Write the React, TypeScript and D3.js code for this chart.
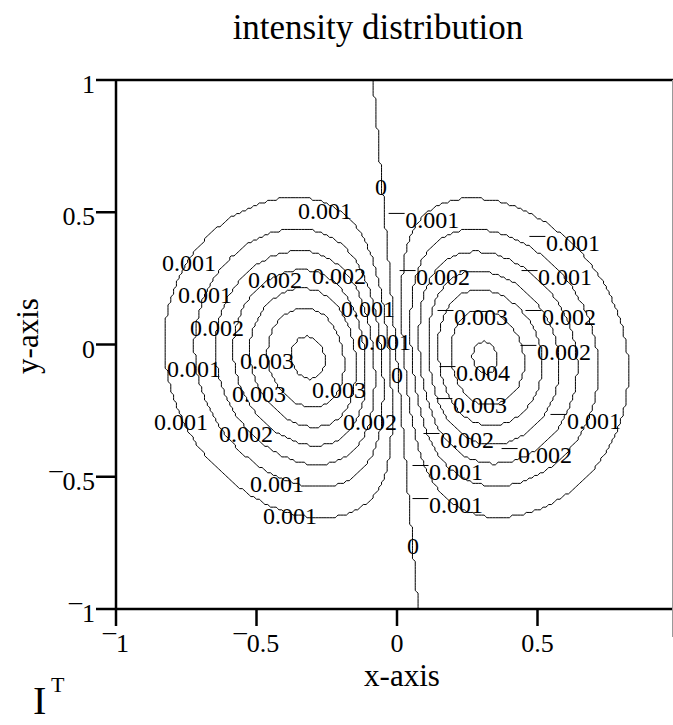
import React, { useMemo } from "react";
import * as d3 from "d3";

const W = 673;
const H = 725;

// Contour levels of the intensity field
const contourLevels = [0.0005, 0.001, 0.0015, 0.002, 0.0025, 0.003, 0.0035];
// Peak intensity of the left and the right lobe
const lobePeaks = [0.003625, 0.00357];
// Distance of a lobe maximum from the nodal line, vertical 1/e half-width
const lobeSpread = [0.314, 0.43];
// Vertical centre of the beam
const beamCenterY = [-0.05];
// Nodal line: x = a + b * y
const nodalLine = [-0.005, -0.08];
// Axis ticks
const axisTicks = [-1, -0.5, 0, 0.5, 1];

// Contour labels: level, label centre x, label centre y, leader line
const labelLevels = [
  0.0005, 0, 0.0005, 0.0005, 0.001, 0.0015, 0.002, 0.001, 0.0015, 0.0005,
  0.001, 0.0025, 0, 0.003, 0.0025, 0.0005, 0.0015, 0.002, 0.001, 0.0005,
  0.0015, 0.0005, 0.001, 0.0025, 0.0015, 0.002, 0.0035, 0.0025, 0.0005,
  0.0015, 0.002, 0.001, 0.0005, 0,
];
const labelX = [
  -0.256, -0.057, 0.125, -0.74, -0.683, -0.434, -0.206, -0.103, -0.641, -0.046,
  -0.722, -0.463, 0.0, -0.491, -0.206, -0.769, -0.537, -0.096, -0.427, -0.381,
  0.164, 0.626, 0.598, 0.299, 0.612, 0.594, 0.306, 0.295, 0.701, 0.249, 0.527,
  0.21, 0.21, 0.057,
];
const labelY = [
  0.505, 0.595, 0.471, 0.308, 0.187, 0.244, 0.259, 0.134, 0.062, 0.009, -0.093,
  -0.062, -0.115, -0.187, -0.172, -0.293, -0.338, -0.293, -0.527, -0.648,
  0.255, 0.384, 0.255, 0.104, 0.104, -0.028, -0.108, -0.229, -0.289, -0.361,
  -0.418, -0.482, -0.607, -0.762,
];
const labelLeader = [
  false, false, true, false, false, false, false, false, false, false, false,
  false, false, false, false, false, false, false, false, false, true, true,
  true, true, true, true, true, true, true, true, true, true, true, false,
];

// Signed field amplitude; its magnitude is the plotted intensity
function field(x: number, y: number): number {
  const u = x - (nodalLine[0] + nodalLine[1] * y);
  const v = y - beamCenterY[0];
  const u0 = lobeSpread[0];
  const wy = lobeSpread[1];
  const peak = u < 0 ? lobePeaks[0] : lobePeaks[1];
  return (
    peak * (u / u0) * Math.exp(0.5 * (1 - (u * u) / (u0 * u0)) - (v * v) / (wy * wy))
  );
}

const margin = { left: 116, right: 678, top: 80, bottom: 609 };
const serif = "'Liberation Serif', 'Times New Roman', serif";

function tickText(d: number): string {
  return d < 0 ? "\u00af" + String(Math.abs(d)) : String(d);
}

export default function App() {
  const x = d3.scaleLinear().domain([-1, 1]).range([margin.left, margin.right]);
  const y = d3.scaleLinear().domain([-1, 1]).range([margin.bottom, margin.top]);

  const { ringPaths, nodePath } = useMemo(() => {
    const step = 0.01;
    const g0 = -1.1;
    const n = Math.round((2 * -g0) / step) + 1;
    const mag = new Array(n * n);
    const signed = new Array(n * n);
    for (let j = 0; j < n; j++) {
      const yy = -g0 - j * step;
      for (let i = 0; i < n; i++) {
        const xx = g0 + i * step;
        const e = field(xx, yy);
        signed[j * n + i] = e;
        mag[j * n + i] = Math.abs(e);
      }
    }
    const proj = d3.geoTransform({
      point(px: number, py: number) {
        const dx = g0 + (px - 0.5) * step;
        const dy = -g0 - (py - 0.5) * step;
        (this as any).stream.point(x(dx), y(dy));
      },
    });
    const path = d3.geoPath(proj);
    const rings = d3
      .contours()
      .size([n, n])
      .smooth(false)
      .thresholds(contourLevels)(mag);
    const node = d3.contours().size([n, n]).smooth(false).thresholds([0])(signed);
    return {
      ringPaths: rings.map((c) => path(c as any) || ""),
      nodePath: path(node[0] as any) || "",
    };
  }, []);

  const fmt = d3.format(".3f");
  const labelText = (v: number) => (v === 0 ? "0" : fmt(v));

  return (
    <svg
      width={W}
      height={H}
      viewBox={`0 0 ${W} ${H}`}
      style={{ position: "absolute", left: 0, top: 0, background: "#fff" }}
      fontFamily={serif}
    >
      <defs>
        <clipPath id="plotArea">
          <rect
            x={margin.left}
            y={margin.top}
            width={margin.right - margin.left}
            height={margin.bottom - margin.top}
          />
        </clipPath>
      </defs>
      <rect width={W} height={H} fill="#fff" />

      <text x={378} y={39} fontSize={35} textAnchor="middle" fill="#000">
        intensity distribution
      </text>

      <g clipPath="url(#plotArea)" fill="none" stroke="#000" strokeWidth={1}>
        {ringPaths.map((d, i) => (
          <path key={i} d={d} />
        ))}
        <path d={nodePath} />
      </g>

      {/* contour labels */}
      <g fontSize={24} fill="#000">
        {labelLevels.map((lv, i) => {
          const cx = x(labelX[i]);
          const cy = y(labelY[i]);
          const t = labelText(lv);
          const half = t.length === 1 ? 6 : 27.5;
          return (
            <g key={i}>
              {labelLeader[i] && (
                <line
                  x1={cx - half - 16}
                  x2={cx - half}
                  y1={cy - 6.5}
                  y2={cy - 6.5}
                  stroke="#000"
                  strokeWidth={1}
                />
              )}
              <text x={cx} y={cy + 8} textAnchor="middle">
                {t}
              </text>
            </g>
          );
        })}
      </g>

      {/* frame */}
      <g stroke="#000" strokeWidth={2.5} fill="none">
        <line x1={margin.left} x2={W} y1={margin.top} y2={margin.top} />
        <line x1={margin.left} x2={margin.left} y1={margin.top} y2={margin.bottom} />
        <line x1={margin.left} x2={W} y1={margin.bottom} y2={margin.bottom} />
      </g>
      <line x1={672.5} x2={672.5} y1={margin.top} y2={637} stroke="#999" strokeWidth={1} />

      {/* y axis ticks */}
      <g fontSize={26} fill="#000">
        {axisTicks.map((t) => (
          <g key={"y" + t}>
            <line
              x1={margin.left - 20}
              x2={margin.left}
              y1={y(t)}
              y2={y(t)}
              stroke="#000"
              strokeWidth={2.5}
            />
            <text x={95} y={y(t) + 13} textAnchor="end">
              {tickText(t)}
            </text>
          </g>
        ))}
      </g>

      {/* x axis ticks */}
      <g fontSize={26} fill="#000">
        {axisTicks.map((t) => (
          <g key={"x" + t}>
            <line
              x1={x(t)}
              x2={x(t)}
              y1={margin.bottom}
              y2={margin.bottom + 17}
              stroke="#000"
              strokeWidth={2.5}
            />
            <text x={x(t)} y={652} textAnchor="middle">
              {tickText(t)}
            </text>
          </g>
        ))}
      </g>

      <text x={402} y={686} fontSize={31} textAnchor="middle" fill="#000">
        x-axis
      </text>
      <text
        transform="translate(38,336) rotate(-90)"
        fontSize={31}
        textAnchor="middle"
        fill="#000"
      >
        y-axis
      </text>

      <text x={33} y={714} fontSize={40} fill="#000">
        I
      </text>
      <text x={51} y={692} fontSize={22} fill="#000">
        T
      </text>
    </svg>
  );
}
